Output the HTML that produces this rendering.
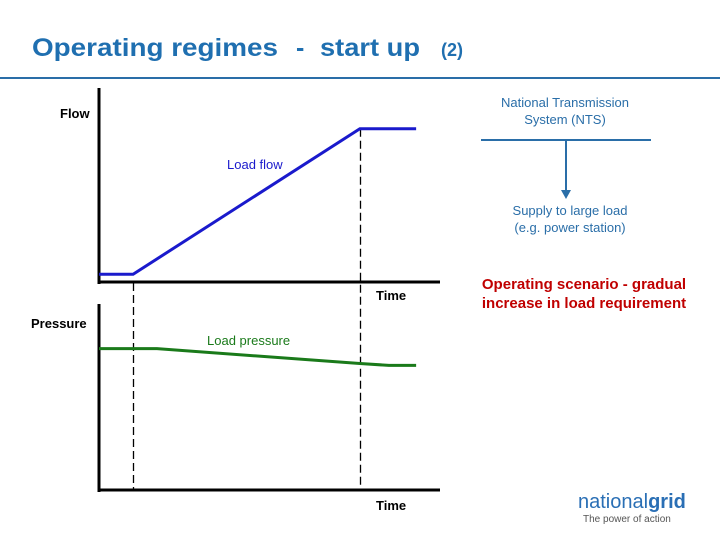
<!DOCTYPE html>
<html><head><meta charset="utf-8"><style>
body{margin:0;width:720px;height:540px;background:#fff;overflow:hidden;font-family:"Liberation Sans",sans-serif;}
</style></head><body>
<svg width="720" height="540" viewBox="0 0 720 540" style="position:absolute;left:0;top:0">
<g font-weight="bold" fill="#1f6fb0">
<text x="32" y="56" font-size="25" textLength="246" lengthAdjust="spacingAndGlyphs">Operating regimes</text>
<text x="296" y="56" font-size="25">-</text>
<text x="320" y="56" font-size="25" textLength="100" lengthAdjust="spacingAndGlyphs">start up</text>
<text x="441" y="56" font-size="18" textLength="22" lengthAdjust="spacingAndGlyphs">(2)</text>
</g>
<rect x="0" y="77" width="720" height="2" fill="#2a6ea8"/>
<g id="chart"></g>
<text x="565" y="107" font-size="13" fill="#2a6ea8" text-anchor="middle">National Transmission</text>
<text x="565" y="124" font-size="13" fill="#2a6ea8" text-anchor="middle">System (NTS)</text>
<line x1="481" y1="140" x2="651" y2="140" stroke="#2a6ea8" stroke-width="2"/>
<line x1="566" y1="140" x2="566" y2="192" stroke="#2a6ea8" stroke-width="2"/>
<polygon points="561,190 571,190 566,199" fill="#2a6ea8"/>
<text x="570" y="215" font-size="13" fill="#2a6ea8" text-anchor="middle">Supply to large load</text>
<text x="570" y="232" font-size="13" fill="#2a6ea8" text-anchor="middle">(e.g. power station)</text>
<text x="584" y="289" font-size="15" font-weight="bold" fill="#c00000" text-anchor="middle">Operating scenario  -  gradual</text>
<text x="584" y="308" font-size="15" font-weight="bold" fill="#c00000" text-anchor="middle">increase in load requirement</text>
<text x="578" y="508" font-size="20" fill="#2a6fb5">national<tspan font-weight="bold">grid</tspan></text>
<text x="583" y="522" font-size="10" fill="#555">The power of action</text>
</svg>
<script>
const flowTime=[0,10,76.5,93];
const flowValues=[4,4,79,79];
const pressTime=[0,17,76.5,85,93];
const pressValues=[76,76,68,67,67];
const markerTimes=[10,76.5];
const NS="http://www.w3.org/2000/svg";
const g=document.getElementById('chart');
const xS=t=>99+t*3.41;
const yF=v=>282-v*1.94;
const yP=v=>490-v*1.86;
function el(tag,a){const e=document.createElementNS(NS,tag);for(const k in a)e.setAttribute(k,a[k]);g.appendChild(e);return e;}
let e;
e=el('line',{x1:99,y1:88,x2:99,y2:284,stroke:'#000','stroke-width':3});


e=el('line',{x1:98,y1:282,x2:440,y2:282,stroke:'#000','stroke-width':3});


e=el('line',{x1:99,y1:304,x2:99,y2:492,stroke:'#000','stroke-width':3});


e=el('line',{x1:98,y1:490,x2:440,y2:490,stroke:'#000','stroke-width':3});


markerTimes.forEach((t,i)=>{
 const top=i==0?283:yF(flowValues[2]);
 const x=Math.round(xS(t))+0.5;
 e=el('line',{x1:x,y1:top,x2:x,y2:490,stroke:'#000','stroke-width':1.3,'stroke-dasharray':'8,4'});
 
 
});
e=el('polyline',{points:flowTime.map((t,i)=>xS(t)+','+yF(flowValues[i])).join(' '),fill:'none',stroke:'#1a1acc','stroke-width':3});


e=el('polyline',{points:pressTime.map((t,i)=>xS(t)+','+yP(pressValues[i])).join(' '),fill:'none',stroke:'#1a7a1a','stroke-width':3});


const labels=[[60,118,'Flow','#000','bold','flow-axis-title'],[31,328,'Pressure','#000','bold','pressure-axis-title'],[376,300,'Time','#000','bold','flow-time-label'],[376,510,'Time','#000','bold','pressure-time-label'],[227,169,'Load flow','#1a1acc','normal','load-flow-label'],[207,345,'Load pressure','#1a7a1a','normal','load-pressure-label']];
labels.forEach(l=>{
 e=el('text',{x:l[0],y:l[1],'font-size':13,fill:l[3],'font-weight':l[4]});
 e.textContent=l[2];
 
 
});
</script>
</body></html>
